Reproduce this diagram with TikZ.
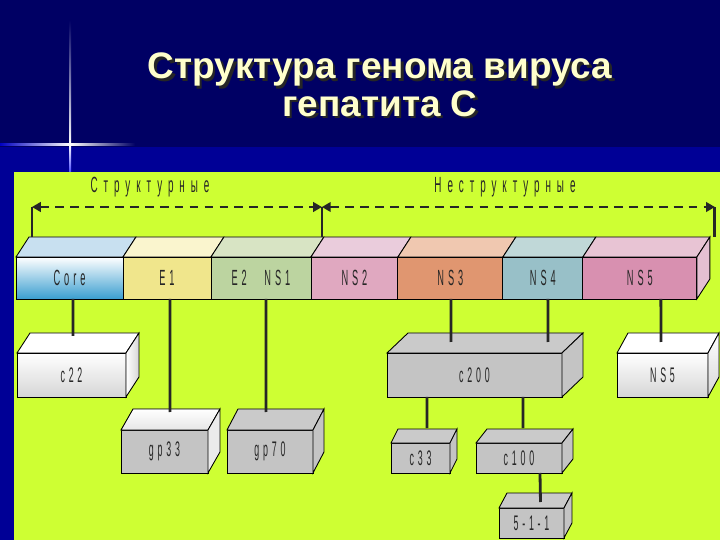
\documentclass[tikz,border=0pt]{standalone}
\usepackage{fontspec}
\setmainfont{Liberation Sans}
\newfontfamily\boxfont[FakeStretch=0.42,LetterSpace=18]{Liberation Sans}
\newfontfamily\lblfont[FakeStretch=0.45,LetterSpace=27]{Liberation Sans}
\usetikzlibrary{arrows.meta,positioning,calc}

\definecolor{navy}{RGB}{0,0,100}
\definecolor{lowblue}{RGB}{0,0,150}
\definecolor{panel}{RGB}{206,255,51}
\definecolor{titlecol}{RGB}{255,255,204}
\definecolor{coreblue}{RGB}{58,158,208}
\definecolor{coretop}{RGB}{200,224,240}
\definecolor{e1front}{RGB}{240,230,140}
\definecolor{e1top}{RGB}{250,245,206}
\definecolor{e2front}{RGB}{188,212,160}
\definecolor{e2top}{RGB}{216,228,196}
\definecolor{ns2front}{RGB}{224,168,192}
\definecolor{ns2top}{RGB}{234,204,220}
\definecolor{ns3front}{RGB}{224,150,112}
\definecolor{ns3top}{RGB}{240,200,176}
\definecolor{ns4front}{RGB}{152,192,200}
\definecolor{ns4top}{RGB}{192,216,216}
\definecolor{ns5front}{RGB}{216,144,176}
\definecolor{ns5top}{RGB}{232,196,212}
\definecolor{ns5side}{RGB}{228,192,210}
\definecolor{boxgray}{RGB}{196,196,196}
\definecolor{boxlight}{RGB}{214,214,214}

% top and right faces of a box drawn on the front node
\newcommand{\topface}[4]{\filldraw[line width=0.5pt,#4] (#1.north west) -- ++(#2,#3) -- ($(#1.north east)+(#2,#3)$) -- (#1.north east) -- cycle;}
\newcommand{\sideface}[4]{\filldraw[line width=0.5pt,#4] (#1.north east) -- ++(#2,#3) -- ($(#1.south east)+(#2,#3)$) -- (#1.south east) -- cycle;}
\newcommand{\shadowtext}[1]{\leavevmode\rlap{\kern1.4pt\raisebox{-1.4pt}{\color{black!85}#1}}#1}

\begin{document}
\begin{tikzpicture}[
    x=0.02cm, y=-0.02cm,
    seg/.style={rectangle, draw, line width=0.5pt, minimum height=0.84cm, inner sep=0pt, outer sep=0pt, text=black!85, font=\boxfont\fontsize{12.5}{14}\selectfont},
    pbox/.style={rectangle, draw, line width=0.5pt, anchor=north west, inner sep=0pt, outer sep=0pt, text=black!85, font=\boxfont\fontsize{12}{14}\selectfont},
    link/.style={line width=1.6pt, black!85},
    tick/.style={line width=1.6pt, black!85},
    span/.style={{Triangle[length=5pt,width=5.5pt]}-{Triangle[length=5pt,width=5.5pt]}, line width=1.1pt, black!85, dash pattern=on 5pt off 3.5pt},
    lbl/.style={text=black!85, font=\lblfont\fontsize{12.5}{14}\selectfont}
]
    \useasboundingbox (0,0) rectangle (720,540);
    \fill[navy] (0,0) rectangle (720,540);
    \fill[lowblue] (0,147) rectangle (720,540);
    % star
    \shade[top color=navy, bottom color=white] (69,20) rectangle (71,145);
    \shade[top color=white, bottom color=blue!70!white] (69,145) rectangle (71,172);
    \shade[left color=blue!60!navy, right color=white] (0,144) rectangle (70,146);
    \shade[left color=white, right color=navy] (70,144) rectangle (135,146);
    \fill[panel] (14,172) rectangle (720,540);

    \node[align=center, text=titlecol, font=\bfseries\fontsize{21}{20}\selectfont] (title) at (380,86)
        {\shadowtext{Структура генома вируса}\\\shadowtext{гепатита С}};

    % genome
    \node[seg, anchor=north west, minimum width=2.14cm, top color=white, bottom color=coreblue] (core) at (16,257) {Core};
    \node[seg, right=0pt of core, minimum width=1.76cm, fill=e1front] (e1) {E1};
    \node[seg, right=0pt of e1, minimum width=2cm, fill=e2front] (e2) {E2\hspace{0.8em}NS1};
    \node[seg, right=0pt of e2, minimum width=1.74cm, fill=ns2front] (ns2) {NS2};
    \node[seg, right=0pt of ns2, minimum width=2.1cm, fill=ns3front] (ns3) {NS3};
    \node[seg, right=0pt of ns3, minimum width=1.6cm, fill=ns4front] (ns4) {NS4};
    \node[seg, right=0pt of ns4, minimum width=2.28cm, fill=ns5front] (ns5) {NS5};
    \topface{core}{13}{-20}{fill=coretop}
    \topface{e1}{13}{-20}{fill=e1top}
    \topface{e2}{13}{-20}{fill=e2top}
    \topface{ns2}{13}{-20}{fill=ns2top}
    \topface{ns3}{13}{-20}{fill=ns3top}
    \topface{ns4}{13}{-20}{fill=ns4top}
    \topface{ns5}{13}{-20}{fill=ns5top}
    \sideface{ns5}{13}{-20}{fill=ns5side}

    % regions
    \coordinate (t1) at ($(core.north west)+(16,-20)$);
    \coordinate (t2) at ($(e2.north east)+(11,-20)$);
    \coordinate (t3) at ($(ns5.north east)+(18,-20)$);
    \coordinate (a1) at ($(t1)+(0,-30)$);
    \coordinate (a2) at ($(t2)+(0,-30)$);
    \coordinate (a3) at ($(t3)+(0,-30)$);
    \draw[tick] (t1) -- (a1);
    \draw[tick] (t2) -- (a2);
    \draw[tick] (t3) -- (a3);
    \draw[span] (a1) -- (a2);
    \draw[span] (a2) -- (a3);
    \node[lbl] (struct) at (150,187) {Структурные};
    \node[lbl] (nonstruct) at (505,187) {Неструктурные};

    % proteins
    \node[pbox, minimum width=2.18cm, minimum height=0.88cm, top color=white, bottom color=boxlight] (c22) at (17,353) {c22};
    \node[pbox, minimum width=1.74cm, minimum height=0.86cm, fill=boxgray] (gp33) at (121,430) {gp33};
    \node[pbox, minimum width=1.72cm, minimum height=0.86cm, fill=boxgray] (gp70) at (227,430) {gp70};
    \node[pbox, minimum width=3.5cm, minimum height=0.88cm, fill=boxgray] (c200) at (387,353) {c200};
    \node[pbox, minimum width=1.82cm, minimum height=0.88cm, top color=white, bottom color=boxlight] (ns5p) at (617,353) {NS5};
    \node[pbox, minimum width=1.18cm, minimum height=0.6cm, fill=boxgray] (c33) at (391,443) {c33};
    \node[pbox, minimum width=1.72cm, minimum height=0.6cm, fill=boxgray] (c100) at (476,443) {c100};
    \node[pbox, minimum width=1.3cm, minimum height=0.6cm, fill=boxgray] (p511) at (499,508) {5-1-1};
    \topface{c22}{13}{-20}{fill=white}
    \sideface{c22}{13}{-20}{left color=white, right color=boxlight}
    \topface{gp33}{12}{-21}{top color=white, bottom color=boxlight!60}
    \sideface{gp33}{12}{-21}{fill=white!92!black}
    \topface{gp70}{11}{-21}{fill=boxgray!90!white}
    \sideface{gp70}{11}{-21}{fill=boxgray}
    \topface{c200}{21}{-20}{fill=boxgray!90!white}
    \sideface{c200}{21}{-20}{fill=boxgray}
    \topface{ns5p}{11}{-20}{fill=white}
    \sideface{ns5p}{11}{-20}{top color=white, bottom color=boxlight}
    \topface{c33}{7}{-14}{fill=boxgray!90!white}
    \sideface{c33}{7}{-14}{fill=boxgray}
    \topface{c100}{11}{-14}{fill=boxgray!90!white}
    \sideface{c100}{11}{-14}{fill=boxgray}
    \topface{p511}{8}{-15}{fill=boxgray!90!white}
    \sideface{p511}{8}{-15}{fill=boxgray}

    \draw[link] ($(core.south)+(3.5,0)$) -- ($(c22.north)+(1.5,-17)$);
    \draw[link] ($(e1.south)+(3,0)$) -- ($(gp33.north)+(5.5,-18)$);
    \draw[link] ($(e2.south)+(5,0)$) -- ($(gp70.north)+(-4,-18)$);
    \draw[link] ($(ns3.south)+(0.5,0)$) -- ($(c200.north)+(-23.5,-11)$);
    \draw[link] ($(ns4.south)+(5,0)$) -- ($(c200.north)+(73.5,-11)$);
    \draw[link] ($(ns5.south)+(21,0)$) -- ($(ns5p.north)+(-1.5,-11)$);
    \draw[link] ($(c200.south)+(-47.5,0)$) -- ($(c33.north)+(6.5,-15)$);
    \draw[link] ($(c200.south)+(48.5,0)$) -- ($(c100.north)+(4,-15)$);
    \draw[link] ($(c100.south)+(21,0)$) -- ($(p511.north)+(9,-6)$);
\end{tikzpicture}
\end{document}
